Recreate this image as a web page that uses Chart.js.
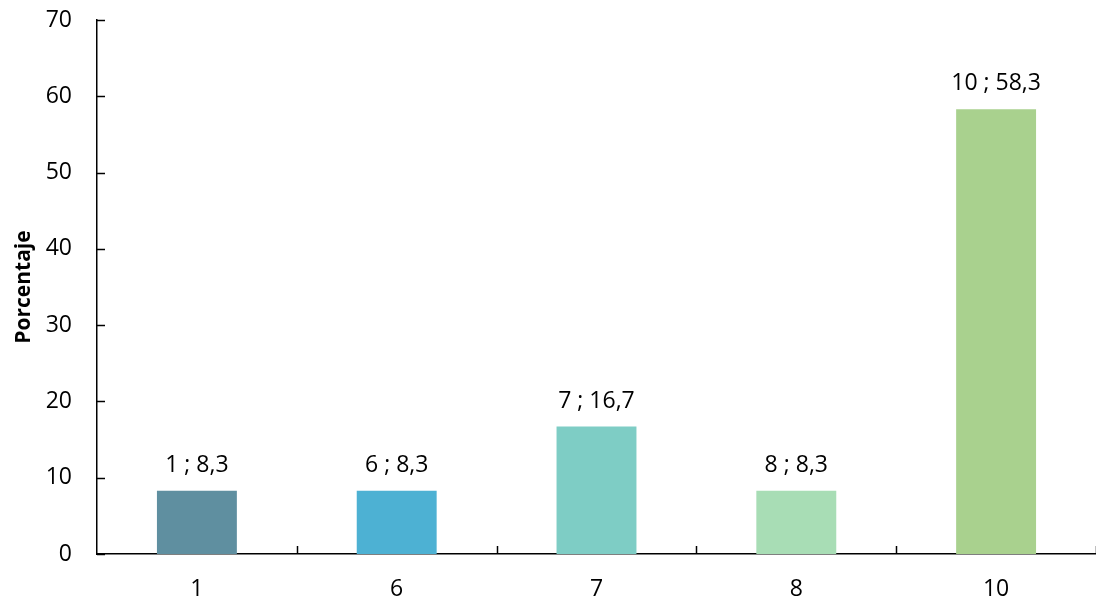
<!DOCTYPE html>
<html><head><meta charset="utf-8">
<script src="https://cdn.jsdelivr.net/npm/chart.js@4.4.1/dist/chart.umd.min.js"></script>
<style>html,body{margin:0;padding:0;background:#fff}#wrap{width:1096px;height:604px}</style>
</head><body><div id="wrap"><canvas id="c" width="1096" height="604"></canvas></div>
<script>
const categories = ["1", "6", "7", "8", "10"];
const values = [8.3, 8.3, 16.7, 8.3, 58.3];
const valueLabels = ["1 ; 8,3", "6 ; 8,3", "7 ; 16,7", "8 ; 8,3", "10 ; 58,3"];
const barColors = ["#5F8FA0", "#4DB1D3", "#7ECDC5", "#A8DDB5", "#A9D18E"];
const yTicks = [0, 10, 20, 30, 40, 50, 60, 70];
const FONT = "'Open Sans', 'DejaVu Sans', sans-serif";

const tickPlugin = {
  id: 'ticksAndLabels',
  afterDatasetsDraw(chart) {
    const ctx = chart.ctx, x = chart.scales.x, y = chart.scales.y;
    const area = chart.chartArea;
    ctx.save();
    ctx.strokeStyle = '#000'; ctx.lineWidth = 1.5;
    yTicks.forEach(v => {
      const py = Math.round(y.getPixelForValue(v)) + 0.5;
      ctx.beginPath(); ctx.moveTo(area.left, py); ctx.lineTo(area.left + 8, py); ctx.stroke();
    });
    for (let i = 0; i < categories.length; i++) {
      const half = (x.getPixelForValue(1) - x.getPixelForValue(0)) / 2;
      const px = Math.round(x.getPixelForValue(i) + half) + 0.5;
      ctx.beginPath(); ctx.moveTo(px, area.bottom); ctx.lineTo(px, area.bottom - 8); ctx.stroke();
    }
    const meta = chart.getDatasetMeta(0);
    ctx.fillStyle = '#000';
    ctx.font = "23px " + FONT;
    ctx.textAlign = 'center'; ctx.textBaseline = 'alphabetic';
    meta.data.forEach((bar, i) => {
      ctx.fillText(valueLabels[i], bar.x, bar.y - 19);
    });
    ctx.restore();
  }
};

new Chart(document.getElementById('c'), {
  type: 'bar',
  data: { labels: categories, datasets: [{ data: values, backgroundColor: barColors, barPercentage: 0.4, categoryPercentage: 1.0 }] },
  options: {
    responsive: false, animation: false,
    layout: { padding: { top: 20, right: 0, left: 0, bottom: 0 } },
    plugins: { legend: { display: false }, tooltip: { enabled: false } },
    scales: {
      x: {
        grid: { display: false, drawTicks: false },
        border: { display: true, color: '#000', width: 1.5 },
        ticks: { color: '#000', font: { size: 23, family: FONT }, padding: 22 },
        afterFit(s) { s.height = 50; s.paddingLeft = 0; s.paddingRight = 0; }
      },
      y: {
        min: 0, max: 70,
        afterBuildTicks(s) { s.ticks = yTicks.map(v => ({ value: v })); },
        grid: { display: false, drawTicks: false },
        border: { display: true, color: '#000', width: 1.5 },
        ticks: { color: '#000', font: { size: 23, family: FONT }, padding: 25 },
        title: { display: true, text: 'Porcentaje', color: '#000', font: { size: 21, weight: 'bold', family: FONT }, padding: { top: 11, bottom: 0 } },
        afterFit(s) { s.width = 97; s.paddingTop = 0; s.paddingBottom = 0; }
      }
    }
  },
  plugins: [tickPlugin]
});
</script></body></html>
